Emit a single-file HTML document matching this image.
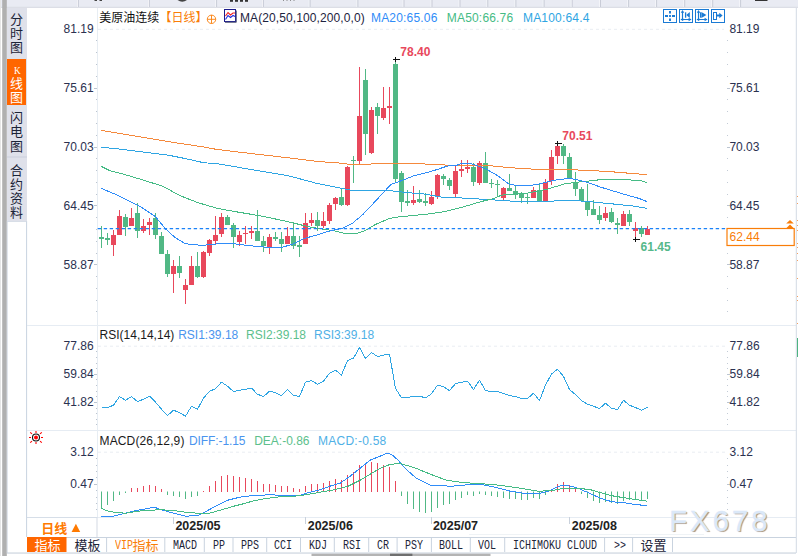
<!DOCTYPE html>
<html><head><meta charset="utf-8"><title>chart</title><style>
html,body{margin:0;padding:0;background:#fff;}
body{width:798px;height:556px;position:relative;overflow:hidden;font-family:"Liberation Sans",sans-serif;}
svg{position:absolute;left:0;top:0;}
.t{position:absolute;white-space:nowrap;font-family:"Liberation Sans",sans-serif;}
.c{font-family:"Liberation Sans","Noto Sans CJK SC",sans-serif;}
.wm{font-size:29px;line-height:34px;letter-spacing:3.2px;color:#dbe8f8;-webkit-text-stroke:0.55px #dbe8f8;text-shadow:1.3px 1.3px 0.7px #ab9683;}
</style></head>
<body>
<svg width="798" height="556" viewBox="0 0 798 556">
<rect x="0" y="0" width="798" height="7.5" fill="#e9ebf3"/>
<rect x="0" y="6.8" width="798" height="1" fill="#d6d9e2"/>
<rect x="77" y="0" width="1" height="7" fill="#f6f7fa"/>
<rect x="77.9" y="0" width="1" height="7" fill="#c9ccd7"/>
<rect x="148" y="0" width="1" height="7" fill="#f6f7fa"/>
<rect x="148.9" y="0" width="1" height="7" fill="#c9ccd7"/>
<rect x="215.2" y="0" width="1" height="7" fill="#f6f7fa"/>
<rect x="216.1" y="0" width="1" height="7" fill="#c9ccd7"/>
<rect x="262" y="0" width="1" height="7" fill="#f6f7fa"/>
<rect x="262.9" y="0" width="1" height="7" fill="#c9ccd7"/>
<rect x="308.7" y="0" width="1" height="7" fill="#f6f7fa"/>
<rect x="309.6" y="0" width="1" height="7" fill="#c9ccd7"/>
<rect x="356.5" y="0" width="1" height="7" fill="#f6f7fa"/>
<rect x="357.4" y="0" width="1" height="7" fill="#c9ccd7"/>
<rect x="402.6" y="0" width="1" height="7" fill="#f6f7fa"/>
<rect x="403.5" y="0" width="1" height="7" fill="#c9ccd7"/>
<rect x="430.6" y="0" width="1" height="7" fill="#f6f7fa"/>
<rect x="431.5" y="0" width="1" height="7" fill="#c9ccd7"/>
<rect x="458.6" y="0" width="1" height="7" fill="#f6f7fa"/>
<rect x="459.5" y="0" width="1" height="7" fill="#c9ccd7"/>
<rect x="486.4" y="0" width="1" height="7" fill="#f6f7fa"/>
<rect x="487.3" y="0" width="1" height="7" fill="#c9ccd7"/>
<rect x="514.5" y="0" width="1" height="7" fill="#f6f7fa"/>
<rect x="515.4" y="0" width="1" height="7" fill="#c9ccd7"/>
<rect x="542.7" y="0" width="1" height="7" fill="#f6f7fa"/>
<rect x="543.6" y="0" width="1" height="7" fill="#c9ccd7"/>
<rect x="570.8" y="0" width="1" height="7" fill="#f6f7fa"/>
<rect x="571.7" y="0" width="1" height="7" fill="#c9ccd7"/>
<rect x="599.1" y="0" width="1" height="7" fill="#f6f7fa"/>
<rect x="600" y="0" width="1" height="7" fill="#c9ccd7"/>
<rect x="627.2" y="0" width="1" height="7" fill="#f6f7fa"/>
<rect x="628.1" y="0" width="1" height="7" fill="#c9ccd7"/>
<rect x="655.2" y="0" width="1" height="7" fill="#f6f7fa"/>
<rect x="656.1" y="0" width="1" height="7" fill="#c9ccd7"/>
<rect x="683.3" y="0" width="1" height="7" fill="#f6f7fa"/>
<rect x="684.2" y="0" width="1" height="7" fill="#c9ccd7"/>
<rect x="711.3" y="0" width="1" height="7" fill="#f6f7fa"/>
<rect x="712.2" y="0" width="1" height="7" fill="#c9ccd7"/>
<rect x="739.2" y="0" width="1" height="7" fill="#f6f7fa"/>
<rect x="740.1" y="0" width="1" height="7" fill="#c9ccd7"/>
<rect x="94.5" y="0" width="2.5" height="1" fill="#444"/>
<rect x="99.5" y="0" width="2.5" height="1" fill="#444"/>
<path d="M177.5 0Q182.3 3.4 187 0Z" fill="#444"/>
<rect x="230" y="0" width="3" height="1.8" fill="#333"/>
<rect x="235" y="0" width="3" height="1.8" fill="#333"/>
<rect x="240" y="0" width="3" height="1.8" fill="#333"/>
<rect x="245" y="0" width="3" height="1.8" fill="#333"/>
<rect x="283" y="0" width="1" height="0.8" fill="#777"/>
<rect x="286.5" y="0" width="1" height="0.8" fill="#777"/>
<rect x="290" y="0" width="1" height="0.8" fill="#777"/>
<rect x="293.5" y="0" width="1" height="0.8" fill="#777"/>
<rect x="755" y="0" width="12.5" height="1" fill="#333"/>
<rect x="0" y="0" width="1" height="556" fill="#e6e6e6"/>
<rect x="2.2" y="0" width="4.6" height="556" fill="#b0b0b0"/>
<rect x="7" y="8" width="20" height="213.5" fill="#dfe1ea"/>
<rect x="7" y="59" width="19" height="46" fill="#ff6600"/>
<rect x="7" y="156.5" width="20" height="1" fill="#ccd0dc"/>
<rect x="6.8" y="221" width="0.8" height="332" fill="#cdd5e0"/>
<rect x="26" y="221" width="1.1" height="316" fill="#cdd7e3"/>
<rect x="7" y="221" width="20" height="0.8" fill="#d3dae4"/>
<rect x="27" y="325" width="769" height="1" fill="#e6ecf3"/>
<rect x="27" y="430" width="769" height="1" fill="#e6ecf3"/>
<rect x="27" y="517" width="769" height="1" fill="#e6ecf3"/>
<rect x="27" y="537" width="769" height="1" fill="#c9d3df"/>
<rect x="7" y="552.5" width="789" height="1.1" fill="#c8d1dc"/>
<rect x="795.8" y="8" width="1" height="545" fill="#d3dae4"/>
<rect x="797" y="338" width="1" height="19" fill="#4db380"/>
<rect x="797" y="196" width="1" height="1" fill="#f5a060"/>
<rect x="797" y="203" width="1" height="1" fill="#f5a060"/>
<rect x="797" y="220" width="1" height="1" fill="#f5a060"/>
<rect x="797" y="225" width="1" height="1" fill="#f5a060"/>
<rect x="797" y="230" width="1" height="1" fill="#f5a060"/>
<rect x="797" y="243" width="1" height="1" fill="#f5a060"/>
<rect x="797" y="247" width="1" height="1" fill="#f5a060"/>
<rect x="797" y="253" width="1" height="1" fill="#f5a060"/>
<rect x="797" y="260" width="1" height="1" fill="#f5a060"/>
<rect x="797" y="278" width="1" height="1" fill="#f5a060"/>
<rect x="797" y="296" width="1" height="1" fill="#f5a060"/>
<rect x="797" y="300" width="1" height="1" fill="#f5a060"/>
<rect x="797" y="323" width="1" height="1" fill="#f5a060"/>
<rect x="469" y="534" width="235" height="1" fill="#eff3f6"/>
<rect x="97" y="8" width="1" height="509" fill="#e7edf3"/>
<rect x="96.5" y="517" width="1" height="20" fill="#d3dae4"/>
<rect x="27" y="517" width="70" height="1" fill="#d6dee8"/>
<rect x="311.5" y="553.7" width="179" height="2.3" fill="#b4b4b4"/>
<rect x="390" y="553.7" width="22.4" height="2.3" fill="#6f6f6f"/>
<line x1="98" y1="29.3" x2="724" y2="29.3" stroke="#e9edf2" stroke-width="1" stroke-dasharray="3 3"/>
<line x1="98" y1="346.2" x2="727" y2="346.2" stroke="#e9edf2" stroke-width="1" stroke-dasharray="3 3"/>
<line x1="98" y1="452.2" x2="727" y2="452.2" stroke="#e9edf2" stroke-width="1" stroke-dasharray="3 3"/>
<rect x="96" y="40" width="1" height="1" fill="#bcc4cf"/>
<rect x="727" y="40" width="1" height="1" fill="#c3cbd6"/>
<rect x="96" y="52" width="1" height="1" fill="#bcc4cf"/>
<rect x="727" y="52" width="1" height="1" fill="#c3cbd6"/>
<rect x="96" y="64" width="1" height="1" fill="#bcc4cf"/>
<rect x="727" y="64" width="1" height="1" fill="#c3cbd6"/>
<rect x="96" y="76" width="1" height="1" fill="#bcc4cf"/>
<rect x="727" y="76" width="1" height="1" fill="#c3cbd6"/>
<rect x="94" y="88" width="3" height="1" fill="#bcc5d1"/>
<rect x="727" y="88" width="3" height="1" fill="#bcc5d1"/>
<rect x="96" y="99" width="1" height="1" fill="#bcc4cf"/>
<rect x="727" y="99" width="1" height="1" fill="#c3cbd6"/>
<rect x="96" y="111" width="1" height="1" fill="#bcc4cf"/>
<rect x="727" y="111" width="1" height="1" fill="#c3cbd6"/>
<rect x="96" y="123" width="1" height="1" fill="#bcc4cf"/>
<rect x="727" y="123" width="1" height="1" fill="#c3cbd6"/>
<rect x="96" y="135" width="1" height="1" fill="#bcc4cf"/>
<rect x="727" y="135" width="1" height="1" fill="#c3cbd6"/>
<rect x="94" y="147" width="3" height="1" fill="#bcc5d1"/>
<rect x="727" y="147" width="3" height="1" fill="#bcc5d1"/>
<rect x="96" y="158" width="1" height="1" fill="#bcc4cf"/>
<rect x="727" y="158" width="1" height="1" fill="#c3cbd6"/>
<rect x="96" y="170" width="1" height="1" fill="#bcc4cf"/>
<rect x="727" y="170" width="1" height="1" fill="#c3cbd6"/>
<rect x="96" y="182" width="1" height="1" fill="#bcc4cf"/>
<rect x="727" y="182" width="1" height="1" fill="#c3cbd6"/>
<rect x="96" y="194" width="1" height="1" fill="#bcc4cf"/>
<rect x="727" y="194" width="1" height="1" fill="#c3cbd6"/>
<rect x="94" y="205" width="3" height="1" fill="#bcc5d1"/>
<rect x="727" y="205" width="3" height="1" fill="#bcc5d1"/>
<rect x="96" y="217" width="1" height="1" fill="#bcc4cf"/>
<rect x="727" y="217" width="1" height="1" fill="#c3cbd6"/>
<rect x="96" y="229" width="1" height="1" fill="#bcc4cf"/>
<rect x="727" y="229" width="1" height="1" fill="#c3cbd6"/>
<rect x="96" y="241" width="1" height="1" fill="#bcc4cf"/>
<rect x="727" y="241" width="1" height="1" fill="#c3cbd6"/>
<rect x="96" y="253" width="1" height="1" fill="#bcc4cf"/>
<rect x="727" y="253" width="1" height="1" fill="#c3cbd6"/>
<rect x="94" y="264" width="3" height="1" fill="#bcc5d1"/>
<rect x="727" y="264" width="3" height="1" fill="#bcc5d1"/>
<rect x="96" y="276" width="1" height="1" fill="#bcc4cf"/>
<rect x="727" y="276" width="1" height="1" fill="#c3cbd6"/>
<rect x="96" y="288" width="1" height="1" fill="#bcc4cf"/>
<rect x="727" y="288" width="1" height="1" fill="#c3cbd6"/>
<rect x="96" y="300" width="1" height="1" fill="#bcc4cf"/>
<rect x="727" y="300" width="1" height="1" fill="#c3cbd6"/>
<rect x="96" y="311" width="1" height="1" fill="#bcc4cf"/>
<rect x="727" y="311" width="1" height="1" fill="#c3cbd6"/>
<rect x="96" y="351" width="1" height="1" fill="#bcc4cf"/>
<rect x="727" y="351" width="1" height="1" fill="#c3cbd6"/>
<rect x="96" y="357" width="1" height="1" fill="#bcc4cf"/>
<rect x="727" y="357" width="1" height="1" fill="#c3cbd6"/>
<rect x="96" y="363" width="1" height="1" fill="#bcc4cf"/>
<rect x="727" y="363" width="1" height="1" fill="#c3cbd6"/>
<rect x="96" y="368" width="1" height="1" fill="#bcc4cf"/>
<rect x="727" y="368" width="1" height="1" fill="#c3cbd6"/>
<rect x="94" y="374" width="3" height="1" fill="#bcc5d1"/>
<rect x="727" y="374" width="3" height="1" fill="#bcc5d1"/>
<rect x="96" y="379" width="1" height="1" fill="#bcc4cf"/>
<rect x="727" y="379" width="1" height="1" fill="#c3cbd6"/>
<rect x="96" y="385" width="1" height="1" fill="#bcc4cf"/>
<rect x="727" y="385" width="1" height="1" fill="#c3cbd6"/>
<rect x="96" y="391" width="1" height="1" fill="#bcc4cf"/>
<rect x="727" y="391" width="1" height="1" fill="#c3cbd6"/>
<rect x="96" y="396" width="1" height="1" fill="#bcc4cf"/>
<rect x="727" y="396" width="1" height="1" fill="#c3cbd6"/>
<rect x="94" y="402" width="3" height="1" fill="#bcc5d1"/>
<rect x="727" y="402" width="3" height="1" fill="#bcc5d1"/>
<rect x="96" y="408" width="1" height="1" fill="#bcc4cf"/>
<rect x="727" y="408" width="1" height="1" fill="#c3cbd6"/>
<rect x="96" y="413" width="1" height="1" fill="#bcc4cf"/>
<rect x="727" y="413" width="1" height="1" fill="#c3cbd6"/>
<rect x="96" y="419" width="1" height="1" fill="#bcc4cf"/>
<rect x="727" y="419" width="1" height="1" fill="#c3cbd6"/>
<rect x="96" y="424" width="1" height="1" fill="#bcc4cf"/>
<rect x="727" y="424" width="1" height="1" fill="#c3cbd6"/>
<rect x="96" y="458" width="1" height="1" fill="#bcc4cf"/>
<rect x="727" y="458" width="1" height="1" fill="#c3cbd6"/>
<rect x="96" y="465" width="1" height="1" fill="#bcc4cf"/>
<rect x="727" y="465" width="1" height="1" fill="#c3cbd6"/>
<rect x="96" y="471" width="1" height="1" fill="#bcc4cf"/>
<rect x="727" y="471" width="1" height="1" fill="#c3cbd6"/>
<rect x="96" y="477" width="1" height="1" fill="#bcc4cf"/>
<rect x="727" y="477" width="1" height="1" fill="#c3cbd6"/>
<rect x="94" y="484" width="3" height="1" fill="#bcc5d1"/>
<rect x="727" y="484" width="3" height="1" fill="#bcc5d1"/>
<rect x="96" y="490" width="1" height="1" fill="#bcc4cf"/>
<rect x="727" y="490" width="1" height="1" fill="#c3cbd6"/>
<rect x="96" y="497" width="1" height="1" fill="#bcc4cf"/>
<rect x="727" y="497" width="1" height="1" fill="#c3cbd6"/>
<rect x="96" y="503" width="1" height="1" fill="#bcc4cf"/>
<rect x="727" y="503" width="1" height="1" fill="#c3cbd6"/>
<rect x="96" y="509" width="1" height="1" fill="#bcc4cf"/>
<rect x="727" y="509" width="1" height="1" fill="#c3cbd6"/>
<rect x="101" y="226" width="1" height="22" fill="#51b885"/>
<rect x="99" y="237" width="5" height="2" fill="#51b885"/>
<rect x="107" y="233" width="1" height="12" fill="#51b885"/>
<rect x="105" y="238" width="5" height="2" fill="#51b885"/>
<rect x="113" y="230" width="1" height="26" fill="#e8485c"/>
<rect x="111" y="235" width="5" height="10" fill="#e8485c"/>
<rect x="119" y="210" width="1" height="25" fill="#e8485c"/>
<rect x="117" y="216" width="5" height="19" fill="#e8485c"/>
<rect x="125" y="214" width="1" height="22" fill="#51b885"/>
<rect x="123" y="217" width="5" height="10" fill="#51b885"/>
<rect x="131" y="208" width="1" height="18" fill="#e8485c"/>
<rect x="129" y="218" width="5" height="8" fill="#e8485c"/>
<rect x="137" y="203" width="1" height="35" fill="#51b885"/>
<rect x="135" y="213" width="5" height="18" fill="#51b885"/>
<rect x="143" y="219" width="1" height="14" fill="#e8485c"/>
<rect x="141" y="226" width="5" height="5" fill="#e8485c"/>
<rect x="149" y="218" width="1" height="17" fill="#e8485c"/>
<rect x="147" y="222" width="5" height="3" fill="#e8485c"/>
<rect x="155" y="213" width="1" height="26" fill="#51b885"/>
<rect x="153" y="218" width="5" height="17" fill="#51b885"/>
<rect x="161" y="232" width="1" height="22" fill="#51b885"/>
<rect x="159" y="236" width="5" height="18" fill="#51b885"/>
<rect x="167" y="250" width="1" height="27" fill="#51b885"/>
<rect x="165" y="254" width="5" height="20" fill="#51b885"/>
<rect x="173" y="260" width="1" height="33" fill="#e8485c"/>
<rect x="171" y="266" width="5" height="8" fill="#e8485c"/>
<rect x="179" y="256" width="1" height="22" fill="#51b885"/>
<rect x="177" y="266" width="5" height="7" fill="#51b885"/>
<rect x="185" y="279" width="1" height="25" fill="#e8485c"/>
<rect x="183" y="285" width="5" height="5" fill="#e8485c"/>
<rect x="191" y="256" width="1" height="29" fill="#e8485c"/>
<rect x="189" y="266" width="5" height="19" fill="#e8485c"/>
<rect x="197" y="252" width="1" height="26" fill="#51b885"/>
<rect x="195" y="266" width="5" height="11" fill="#51b885"/>
<rect x="203" y="251" width="1" height="27" fill="#e8485c"/>
<rect x="201" y="252" width="5" height="25" fill="#e8485c"/>
<rect x="209" y="239" width="1" height="17" fill="#e8485c"/>
<rect x="207" y="240" width="5" height="13" fill="#e8485c"/>
<rect x="215" y="216" width="1" height="28" fill="#e8485c"/>
<rect x="213" y="235" width="5" height="6" fill="#e8485c"/>
<rect x="221" y="213" width="1" height="24" fill="#e8485c"/>
<rect x="219" y="217" width="5" height="17" fill="#e8485c"/>
<rect x="227" y="215" width="1" height="10" fill="#51b885"/>
<rect x="225" y="217" width="5" height="8" fill="#51b885"/>
<rect x="233" y="223" width="1" height="25" fill="#51b885"/>
<rect x="231" y="225" width="5" height="12" fill="#51b885"/>
<rect x="239" y="231" width="1" height="15" fill="#e8485c"/>
<rect x="237" y="235" width="5" height="7" fill="#e8485c"/>
<rect x="245" y="226" width="1" height="18" fill="#e8485c"/>
<rect x="243" y="233" width="5" height="1" fill="#e8485c"/>
<rect x="251" y="226" width="1" height="13" fill="#e8485c"/>
<rect x="249" y="231" width="5" height="2" fill="#e8485c"/>
<rect x="257" y="210" width="1" height="31" fill="#51b885"/>
<rect x="255" y="231" width="5" height="10" fill="#51b885"/>
<rect x="263" y="236" width="1" height="16" fill="#51b885"/>
<rect x="261" y="241" width="5" height="5" fill="#51b885"/>
<rect x="269" y="234" width="1" height="20" fill="#e8485c"/>
<rect x="267" y="237" width="5" height="10" fill="#e8485c"/>
<rect x="275" y="232" width="1" height="9" fill="#51b885"/>
<rect x="273" y="237" width="5" height="2" fill="#51b885"/>
<rect x="281" y="232" width="1" height="20" fill="#51b885"/>
<rect x="279" y="239" width="5" height="5" fill="#51b885"/>
<rect x="287" y="227" width="1" height="17" fill="#e8485c"/>
<rect x="285" y="236" width="5" height="8" fill="#e8485c"/>
<rect x="293" y="222" width="1" height="27" fill="#51b885"/>
<rect x="291" y="236" width="5" height="10" fill="#51b885"/>
<rect x="299" y="236" width="1" height="21" fill="#51b885"/>
<rect x="297" y="245" width="5" height="2" fill="#51b885"/>
<rect x="305" y="213" width="1" height="31" fill="#e8485c"/>
<rect x="303" y="223" width="5" height="21" fill="#e8485c"/>
<rect x="311" y="213" width="1" height="13" fill="#e8485c"/>
<rect x="309" y="220" width="5" height="3" fill="#e8485c"/>
<rect x="317" y="212" width="1" height="19" fill="#51b885"/>
<rect x="315" y="220" width="5" height="6" fill="#51b885"/>
<rect x="323" y="212" width="1" height="16" fill="#e8485c"/>
<rect x="321" y="221" width="5" height="5" fill="#e8485c"/>
<rect x="329" y="203" width="1" height="21" fill="#e8485c"/>
<rect x="327" y="205" width="5" height="16" fill="#e8485c"/>
<rect x="335" y="197" width="1" height="13" fill="#e8485c"/>
<rect x="333" y="198" width="5" height="6" fill="#e8485c"/>
<rect x="341" y="189" width="1" height="17" fill="#51b885"/>
<rect x="339" y="197" width="5" height="8" fill="#51b885"/>
<rect x="347" y="166" width="1" height="40" fill="#e8485c"/>
<rect x="345" y="167" width="5" height="38" fill="#e8485c"/>
<rect x="353" y="156" width="1" height="27" fill="#51b885"/>
<rect x="351" y="160" width="5" height="1" fill="#51b885"/>
<rect x="359" y="67" width="1" height="97" fill="#e8485c"/>
<rect x="357" y="116" width="5" height="45" fill="#e8485c"/>
<rect x="365" y="69" width="1" height="86" fill="#51b885"/>
<rect x="363" y="80" width="5" height="54" fill="#51b885"/>
<rect x="371" y="107" width="1" height="47" fill="#e8485c"/>
<rect x="369" y="110" width="5" height="43" fill="#e8485c"/>
<rect x="377" y="103" width="1" height="31" fill="#51b885"/>
<rect x="375" y="107" width="5" height="9" fill="#51b885"/>
<rect x="383" y="87" width="1" height="33" fill="#e8485c"/>
<rect x="381" y="108" width="5" height="10" fill="#e8485c"/>
<rect x="389" y="87" width="1" height="37" fill="#e8485c"/>
<rect x="387" y="106" width="5" height="2" fill="#e8485c"/>
<rect x="395" y="61" width="1" height="122" fill="#51b885"/>
<rect x="393" y="64" width="5" height="115" fill="#51b885"/>
<rect x="401" y="171" width="1" height="41" fill="#51b885"/>
<rect x="399" y="173" width="5" height="29" fill="#51b885"/>
<rect x="407" y="190" width="1" height="16" fill="#51b885"/>
<rect x="405" y="201" width="5" height="2" fill="#51b885"/>
<rect x="413" y="186" width="1" height="19" fill="#e8485c"/>
<rect x="411" y="200" width="5" height="3" fill="#e8485c"/>
<rect x="419" y="190" width="1" height="13" fill="#51b885"/>
<rect x="417" y="199" width="5" height="3" fill="#51b885"/>
<rect x="425" y="193" width="1" height="13" fill="#51b885"/>
<rect x="423" y="201" width="5" height="2" fill="#51b885"/>
<rect x="431" y="191" width="1" height="14" fill="#e8485c"/>
<rect x="429" y="197" width="5" height="7" fill="#e8485c"/>
<rect x="437" y="174" width="1" height="25" fill="#e8485c"/>
<rect x="435" y="175" width="5" height="21" fill="#e8485c"/>
<rect x="443" y="174" width="1" height="11" fill="#51b885"/>
<rect x="441" y="176" width="5" height="3" fill="#51b885"/>
<rect x="449" y="178" width="1" height="12" fill="#51b885"/>
<rect x="447" y="180" width="5" height="6" fill="#51b885"/>
<rect x="455" y="166" width="1" height="31" fill="#e8485c"/>
<rect x="453" y="171" width="5" height="23" fill="#e8485c"/>
<rect x="461" y="160" width="1" height="17" fill="#e8485c"/>
<rect x="459" y="169" width="5" height="2" fill="#e8485c"/>
<rect x="467" y="160" width="1" height="13" fill="#e8485c"/>
<rect x="465" y="167" width="5" height="2" fill="#e8485c"/>
<rect x="473" y="163" width="1" height="23" fill="#51b885"/>
<rect x="471" y="167" width="5" height="15" fill="#51b885"/>
<rect x="479" y="161" width="1" height="24" fill="#e8485c"/>
<rect x="477" y="163" width="5" height="20" fill="#e8485c"/>
<rect x="485" y="152" width="1" height="31" fill="#51b885"/>
<rect x="483" y="163" width="5" height="20" fill="#51b885"/>
<rect x="491" y="179" width="1" height="9" fill="#51b885"/>
<rect x="489" y="183" width="5" height="1" fill="#51b885"/>
<rect x="497" y="180" width="1" height="17" fill="#51b885"/>
<rect x="495" y="184" width="5" height="1" fill="#51b885"/>
<rect x="503" y="187" width="1" height="13" fill="#e8485c"/>
<rect x="501" y="188" width="5" height="10" fill="#e8485c"/>
<rect x="509" y="174" width="1" height="17" fill="#51b885"/>
<rect x="507" y="188" width="5" height="3" fill="#51b885"/>
<rect x="515" y="186" width="1" height="13" fill="#51b885"/>
<rect x="513" y="191" width="5" height="4" fill="#51b885"/>
<rect x="521" y="192" width="1" height="11" fill="#51b885"/>
<rect x="519" y="193" width="5" height="5" fill="#51b885"/>
<rect x="527" y="193" width="1" height="11" fill="#51b885"/>
<rect x="525" y="197" width="5" height="1" fill="#51b885"/>
<rect x="533" y="187" width="1" height="11" fill="#e8485c"/>
<rect x="531" y="190" width="5" height="8" fill="#e8485c"/>
<rect x="539" y="184" width="1" height="17" fill="#51b885"/>
<rect x="537" y="190" width="5" height="11" fill="#51b885"/>
<rect x="545" y="179" width="1" height="22" fill="#e8485c"/>
<rect x="543" y="182" width="5" height="19" fill="#e8485c"/>
<rect x="551" y="150" width="1" height="35" fill="#e8485c"/>
<rect x="549" y="157" width="5" height="24" fill="#e8485c"/>
<rect x="557" y="143" width="1" height="21" fill="#e8485c"/>
<rect x="555" y="146" width="5" height="10" fill="#e8485c"/>
<rect x="563" y="144" width="1" height="20" fill="#51b885"/>
<rect x="561" y="146" width="5" height="10" fill="#51b885"/>
<rect x="569" y="153" width="1" height="26" fill="#51b885"/>
<rect x="567" y="157" width="5" height="21" fill="#51b885"/>
<rect x="575" y="172" width="1" height="24" fill="#51b885"/>
<rect x="573" y="183" width="5" height="6" fill="#51b885"/>
<rect x="581" y="187" width="1" height="14" fill="#51b885"/>
<rect x="579" y="189" width="5" height="12" fill="#51b885"/>
<rect x="587" y="184" width="1" height="32" fill="#51b885"/>
<rect x="585" y="201" width="5" height="9" fill="#51b885"/>
<rect x="593" y="200" width="1" height="15" fill="#51b885"/>
<rect x="591" y="209" width="5" height="6" fill="#51b885"/>
<rect x="599" y="206" width="1" height="18" fill="#51b885"/>
<rect x="597" y="215" width="5" height="5" fill="#51b885"/>
<rect x="605" y="207" width="1" height="14" fill="#e8485c"/>
<rect x="603" y="213" width="5" height="5" fill="#e8485c"/>
<rect x="611" y="208" width="1" height="15" fill="#51b885"/>
<rect x="609" y="212" width="5" height="10" fill="#51b885"/>
<rect x="617" y="218" width="1" height="16" fill="#51b885"/>
<rect x="615" y="223" width="5" height="2" fill="#51b885"/>
<rect x="623" y="211" width="1" height="15" fill="#e8485c"/>
<rect x="621" y="214" width="5" height="12" fill="#e8485c"/>
<rect x="629" y="210" width="1" height="16" fill="#51b885"/>
<rect x="627" y="214" width="5" height="8" fill="#51b885"/>
<rect x="635" y="222" width="1" height="18" fill="#e8485c"/>
<rect x="633" y="228" width="5" height="3" fill="#e8485c"/>
<rect x="641" y="226" width="1" height="11" fill="#51b885"/>
<rect x="639" y="228" width="5" height="6" fill="#51b885"/>
<rect x="647" y="226" width="1" height="9" fill="#e8485c"/>
<rect x="645" y="229" width="5" height="6" fill="#e8485c"/>
<polyline points="101,130.4 123,134 150,138.5 177,143 204,147 216,149.3 250,153.4 290,158 316,161.2 334,162.8 346,163.3 347,164.3 359.2,164.2 395.2,163.6 416.8,163.6 436,164.6 453,165.4 487.2,165.4 505.2,167.2 523.2,168.7 546,169.6 568.4,169.5 585.6,170.4 607.2,171.4 628.8,173.2 647.2,174.7" fill="none" stroke="#f5893c" stroke-width="1" stroke-linejoin="round" shape-rendering="crispEdges"/>
<polyline points="101,147.3 114,148.4 132,150.6 150,152.9 168,155.1 186,158.7 204,162.8 216,163.5 250,169.3 289.4,176 316,183.2 334,186.8 352,190.4 388,190.4 406,192.5 424,194 436,196.1 444,197.5 462,198 483.6,199.3 498,200.2 516,201.4 546,201.4 557.6,200.8 568.4,200.1 590,201.7 611.5,203.8 633.1,206 647.2,208.4" fill="none" stroke="#2ea5e3" stroke-width="1" stroke-linejoin="round" shape-rendering="crispEdges"/>
<polyline points="101,166.2 110.4,170.9 123,174 141,179.4 162.6,186.2 180.6,195.9 196.8,202.2 206,205.1 216,208 230.3,210.8 257.8,215.4 278.9,219.7 296.7,223.8 309.6,227 316,228.1 334,230.8 344.8,233.5 355.6,233.9 364.6,230.8 375.4,224.5 388,219.1 395.2,217.3 413.2,215.5 427.5,214.1 436,212.8 444,211.8 462,207.3 480,201.9 494.4,198.3 501.6,195.1 516,193.8 526.8,193.3 537.6,191.2 549,188.7 564,184 574.9,182.4 587.8,181.2 600.8,179.6 622.3,179.6 637.4,180.3 643.9,181.4 647.2,182.9" fill="none" stroke="#45bb85" stroke-width="1" stroke-linejoin="round" shape-rendering="crispEdges"/>
<polyline points="101,188.3 114,193.7 132,202.4 142.8,208.1 155.4,216.5 165.2,228.6 175.1,237.5 185,243.5 190.9,244.4 202.8,245.4 215.7,244 233.5,243.7 248.9,245.6 267.5,247.3 282.1,247.3 293.4,244 304.8,238.3 316,235.2 326.8,231.7 343,228.1 352,223.6 362.8,214.6 375.4,201.2 386.2,189.5 391.6,184.1 400.6,181 413.2,176 427.5,172.4 436.8,169.6 447.6,166 456.6,165.4 462,163.3 471,163.6 478.2,166 487.2,169.6 498,175.9 508.8,184 516,185.4 530.4,185.4 541.2,183.6 549,181.4 557.6,179.6 568.4,178.6 574.9,179.2 585.6,181.8 600.8,187.2 622.3,193.7 639.6,198.6 647.2,201.7" fill="none" stroke="#2f8cf8" stroke-width="1" stroke-linejoin="round" shape-rendering="crispEdges"/>
<line x1="97.7" y1="228.6" x2="726.5" y2="228.6" stroke="#1b82f8" stroke-width="1.3" stroke-dasharray="3.4 2.6"/>
<rect x="393" y="59" width="7" height="1" fill="#111"/>
<rect x="395" y="57" width="1" height="5" fill="#111"/>
<rect x="555" y="143" width="7" height="1" fill="#111"/>
<rect x="557" y="141" width="1" height="5" fill="#111"/>
<rect x="633" y="239" width="7" height="1" fill="#111"/>
<rect x="635" y="237" width="1" height="5" fill="#111"/>
<polyline points="101.5,407.6 107.5,407.6 113.5,405.2 119.5,396.6 125.5,400.2 131.5,396.6 137.5,401.6 143.5,399.2 149.5,396.2 155.5,402.2 161.5,409.2 167.5,415.6 173.5,410.2 179.5,412.6 185.5,416.2 191.5,406.2 197.5,409.2 203.5,398.2 209.5,391.2 215.5,388.8 221.5,382.1 227.5,386.2 233.5,391.6 239.5,390.2 245.5,389.4 251.5,388.2 257.5,394.2 263.5,396.6 269.5,391.2 275.5,392.6 281.5,395.6 287.5,389.6 293.5,395.2 299.5,396.6 305.5,382.2 311.5,380.5 317.5,384.2 323.5,381.1 329.5,373.1 335.5,370.1 341.5,375.1 347.5,360.5 353.5,358.1 359.5,347.5 365.5,358.5 371.5,352.5 377.5,356.5 383.5,355.1 389.5,354.1 395.5,388.5 401.5,397.6 407.5,397.6 413.5,396.2 419.5,396.2 425.5,397.8 431.5,393.8 437.5,385.2 443.5,386.6 449.5,390.6 455.5,383.6 461.5,382.2 467.5,381.1 473.5,389.6 479.5,380.1 485.5,390.6 491.5,391.6 497.5,391.6 503.5,393.6 509.5,395.6 515.5,396.6 521.5,398.6 527.5,398.6 533.5,393.2 539.5,400.6 545.5,385 551.5,374.1 557.5,369.1 563.5,376.5 569.5,389.6 575.5,394.6 581.5,400.6 587.5,404.2 593.5,406.2 599.5,408.6 605.5,403.2 611.5,408.2 617.5,409.6 623.5,400.2 629.5,405.2 635.5,407.6 641.5,410.2 647.5,407.2" fill="none" stroke="#2ea5e3" stroke-width="1" stroke-linejoin="round" shape-rendering="crispEdges"/>
<rect x="101" y="491.5" width="1" height="16.5" fill="#51b885"/>
<rect x="107" y="491.5" width="1" height="13.5" fill="#51b885"/>
<rect x="113" y="491.5" width="1" height="9.5" fill="#51b885"/>
<rect x="119" y="491.5" width="1" height="3.5" fill="#51b885"/>
<rect x="125" y="491.5" width="1" height="1.5" fill="#51b885"/>
<rect x="131" y="488" width="1" height="4" fill="#e8485c"/>
<rect x="137" y="488" width="1" height="4" fill="#e8485c"/>
<rect x="143" y="486" width="1" height="6" fill="#e8485c"/>
<rect x="149" y="485" width="1" height="7" fill="#e8485c"/>
<rect x="155" y="486" width="1" height="6" fill="#e8485c"/>
<rect x="161" y="489" width="1" height="3" fill="#e8485c"/>
<rect x="167" y="491.5" width="1" height="3.5" fill="#51b885"/>
<rect x="173" y="491.5" width="1" height="4.5" fill="#51b885"/>
<rect x="179" y="491.5" width="1" height="5.5" fill="#51b885"/>
<rect x="185" y="491.5" width="1" height="7.5" fill="#51b885"/>
<rect x="191" y="491.5" width="1" height="5.5" fill="#51b885"/>
<rect x="197" y="491.5" width="1" height="4.5" fill="#51b885"/>
<rect x="203" y="491" width="1" height="1" fill="#e8485c"/>
<rect x="209" y="486" width="1" height="6" fill="#e8485c"/>
<rect x="215" y="481" width="1" height="11" fill="#e8485c"/>
<rect x="221" y="476" width="1" height="16" fill="#e8485c"/>
<rect x="227" y="475" width="1" height="17" fill="#e8485c"/>
<rect x="233" y="476" width="1" height="16" fill="#e8485c"/>
<rect x="239" y="477" width="1" height="15" fill="#e8485c"/>
<rect x="245" y="478" width="1" height="14" fill="#e8485c"/>
<rect x="251" y="479" width="1" height="13" fill="#e8485c"/>
<rect x="257" y="481" width="1" height="11" fill="#e8485c"/>
<rect x="263" y="484" width="1" height="8" fill="#e8485c"/>
<rect x="269" y="484" width="1" height="8" fill="#e8485c"/>
<rect x="275" y="485" width="1" height="7" fill="#e8485c"/>
<rect x="281" y="486" width="1" height="6" fill="#e8485c"/>
<rect x="287" y="486" width="1" height="6" fill="#e8485c"/>
<rect x="293" y="488" width="1" height="4" fill="#e8485c"/>
<rect x="299" y="489" width="1" height="3" fill="#e8485c"/>
<rect x="305" y="486" width="1" height="6" fill="#e8485c"/>
<rect x="311" y="484" width="1" height="8" fill="#e8485c"/>
<rect x="317" y="484" width="1" height="8" fill="#e8485c"/>
<rect x="323" y="483" width="1" height="9" fill="#e8485c"/>
<rect x="329" y="481" width="1" height="11" fill="#e8485c"/>
<rect x="335" y="479" width="1" height="13" fill="#e8485c"/>
<rect x="341" y="480" width="1" height="12" fill="#e8485c"/>
<rect x="347" y="475" width="1" height="17" fill="#e8485c"/>
<rect x="353" y="472" width="1" height="20" fill="#e8485c"/>
<rect x="359" y="465" width="1" height="27" fill="#e8485c"/>
<rect x="365" y="464" width="1" height="28" fill="#e8485c"/>
<rect x="371" y="462" width="1" height="30" fill="#e8485c"/>
<rect x="377" y="463" width="1" height="29" fill="#e8485c"/>
<rect x="383" y="465" width="1" height="27" fill="#e8485c"/>
<rect x="389" y="467" width="1" height="25" fill="#e8485c"/>
<rect x="395" y="481" width="1" height="11" fill="#e8485c"/>
<rect x="401" y="491.5" width="1" height="4.5" fill="#51b885"/>
<rect x="407" y="491.5" width="1" height="12.5" fill="#51b885"/>
<rect x="413" y="491.5" width="1" height="17.5" fill="#51b885"/>
<rect x="419" y="491.5" width="1" height="20.5" fill="#51b885"/>
<rect x="425" y="491.5" width="1" height="21.5" fill="#51b885"/>
<rect x="431" y="491.5" width="1" height="20.5" fill="#51b885"/>
<rect x="437" y="491.5" width="1" height="16.5" fill="#51b885"/>
<rect x="443" y="491.5" width="1" height="13.5" fill="#51b885"/>
<rect x="449" y="491.5" width="1" height="12.5" fill="#51b885"/>
<rect x="455" y="491.5" width="1" height="8.5" fill="#51b885"/>
<rect x="461" y="491.5" width="1" height="6.5" fill="#51b885"/>
<rect x="467" y="491.5" width="1" height="3.5" fill="#51b885"/>
<rect x="473" y="491.5" width="1" height="4.5" fill="#51b885"/>
<rect x="479" y="491.5" width="1" height="2.5" fill="#51b885"/>
<rect x="485" y="491.5" width="1" height="3.5" fill="#51b885"/>
<rect x="491" y="491.5" width="1" height="4.5" fill="#51b885"/>
<rect x="497" y="491.5" width="1" height="5.5" fill="#51b885"/>
<rect x="503" y="491.5" width="1" height="6.5" fill="#51b885"/>
<rect x="509" y="491.5" width="1" height="7.5" fill="#51b885"/>
<rect x="515" y="491.5" width="1" height="7.5" fill="#51b885"/>
<rect x="521" y="491.5" width="1" height="8.5" fill="#51b885"/>
<rect x="527" y="491.5" width="1" height="8.5" fill="#51b885"/>
<rect x="533" y="491.5" width="1" height="6.5" fill="#51b885"/>
<rect x="539" y="491.5" width="1" height="7.5" fill="#51b885"/>
<rect x="545" y="491.5" width="1" height="3.5" fill="#51b885"/>
<rect x="551" y="489" width="1" height="3" fill="#e8485c"/>
<rect x="557" y="484" width="1" height="8" fill="#e8485c"/>
<rect x="563" y="482" width="1" height="10" fill="#e8485c"/>
<rect x="569" y="485" width="1" height="7" fill="#e8485c"/>
<rect x="575" y="488" width="1" height="4" fill="#e8485c"/>
<rect x="581" y="491.5" width="1" height="2.5" fill="#51b885"/>
<rect x="587" y="491.5" width="1" height="6.5" fill="#51b885"/>
<rect x="593" y="491.5" width="1" height="9.5" fill="#51b885"/>
<rect x="599" y="491.5" width="1" height="11.5" fill="#51b885"/>
<rect x="605" y="491.5" width="1" height="10.5" fill="#51b885"/>
<rect x="611" y="491.5" width="1" height="11.5" fill="#51b885"/>
<rect x="617" y="491.5" width="1" height="12.5" fill="#51b885"/>
<rect x="623" y="491.5" width="1" height="9.5" fill="#51b885"/>
<rect x="629" y="491.5" width="1" height="8.5" fill="#51b885"/>
<rect x="635" y="491.5" width="1" height="8.5" fill="#51b885"/>
<rect x="641" y="491.5" width="1" height="9.5" fill="#51b885"/>
<rect x="647" y="491.5" width="1" height="7.5" fill="#51b885"/>
<polyline points="101.4,516.2 113.5,516.2 125.5,513.2 137.5,510.2 149.5,508.2 154.2,507.2 161.6,509.8 173.6,513.2 185.6,516.2 197.7,515.6 203.7,512.6 215.7,506.2 227.7,500.2 239.8,497.2 252,495.6 270,494.8 280,495.2 300,495.2 306.2,493.2 320.2,489.8 330.2,486.1 340.3,483.1 350.3,476.1 360.3,468.1 370.3,460.1 380.4,456.1 387.4,453.1 392.4,455.1 398,460.1 406,469.1 416.1,478.1 430.1,485.1 446.1,485.7 450.2,486.7 456.2,485.5 470.2,484.7 480.2,484.1 494.3,487.1 510.3,491.2 526.3,493.6 538.4,493.6 550,490.8 558,486.5 564.1,485.1 576.1,487.5 588.1,492.6 600.2,498.2 612.2,501.8 624.2,502.8 636.2,504.6 646.9,505.6" fill="none" stroke="#2f8cf8" stroke-width="1" stroke-linejoin="round" shape-rendering="crispEdges"/>
<polyline points="101.4,508.2 106,510.6 113.5,512.2 125.5,513.2 137.5,511.2 149.5,510.2 161.6,509.8 173.6,510.6 185.6,512.2 197.7,513.2 209.7,513.2 221.7,509.8 233.8,506.2 245.8,503.2 252,501.2 264,498.8 280,496.8 300,495.8 320.2,492.2 334.2,489.8 348.3,486.1 360.3,480.1 370.3,474.1 380.4,468.1 390.4,464.3 400,463.5 414.1,467.5 430.1,474.1 446.1,480.1 462.2,482.5 480.2,483.7 494.3,484.7 510.3,486.7 526.3,489.2 538.4,491.2 552,490.6 564.1,488.1 576.1,488.1 590.1,489.6 600.2,492.6 612.2,495.8 624.2,497.8 636.2,499.6 646.9,501.2" fill="none" stroke="#45bb85" stroke-width="1" stroke-linejoin="round" shape-rendering="crispEdges"/>
<rect x="173" y="517" width="1" height="7" fill="#c9d1dc"/>
<rect x="305" y="517" width="1" height="7" fill="#c9d1dc"/>
<rect x="431" y="517" width="1" height="7" fill="#c9d1dc"/>
<rect x="569" y="517" width="1" height="7" fill="#c9d1dc"/>
<rect x="727" y="228.5" width="67.2" height="17" fill="#fff" stroke="#f97d08" stroke-width="1.2"/>
<path d="M786.2 223.6L790 220L793.8 223.6ZM786.2 228.2L790 224.6L793.8 228.2Z" fill="#f97d08"/>
<g stroke="#f97d08" stroke-width="0.9" fill="none"><circle cx="211.5" cy="19.3" r="4.2"/><path d="M207.3 19.3H215.7M211.5 15.1V23.5"/></g>
<g><rect x="224.5" y="9.5" width="11" height="12" fill="#fff" stroke="#1c1c8c" stroke-width="1"/><path d="M225 22.3H236.3V10.5" stroke="#555a7a" stroke-width="1" fill="none"/><polyline points="225.5,16 228,12.5 230.5,15 233,13 235,13" fill="none" stroke="#f02020" stroke-width="1.1"/><polyline points="225.5,19.5 228,15.5 230.5,17.5 233,15.5 235,16.5" fill="none" stroke="#2030e0" stroke-width="1.1"/></g>
<rect x="663.5" y="9.5" width="13" height="13" fill="#fff" stroke="#1a7ad4" stroke-width="1"/>
<rect x="679.5" y="9.5" width="13" height="13" fill="#fff" stroke="#1a7ad4" stroke-width="1"/>
<rect x="695.5" y="9.5" width="13" height="13" fill="#fff" stroke="#1a7ad4" stroke-width="1"/>
<rect x="711.5" y="9.5" width="13" height="13" fill="#fff" stroke="#1a7ad4" stroke-width="1"/>
<path d="M665 16H668M669.1 16H670.9M672 16H675M670 11V13.5M670 18.5V21" stroke="#1a7ad4" stroke-width="1.9" fill="none"/>
<g stroke="#1a7ad4" fill="#1a7ad4" stroke-width="1.15"><path d="M682.5 11V20.5M681 19.5H691" fill="none"/><path d="M680.8 12.8L682.5 10L684.2 12.8ZM688.6 17.8L691.6 19.5L688.6 21.2ZM683.2 18L680.4 19.5L683.2 21Z" stroke="none"/><path d="M685.6 12.3V17.7" fill="none" stroke-width="1.3"/><path d="M689.8 12.1V17.9L686.3 15Z" stroke="none"/></g>
<g stroke="#1a7ad4" fill="#1a7ad4" stroke-width="1.15"><path d="M698.5 11V20.5M697 19.5H707" fill="none"/><path d="M696.8 12.8L698.5 10L700.2 12.8ZM704.6 17.8L707.6 19.5L704.6 21.2ZM699.2 18L696.4 19.5L699.2 21Z" stroke="none"/><path d="M700.6 12.3V17.7" fill="none" stroke-width="1.3"/><path d="M701.4 12V18L706.4 15Z" stroke="none"/></g>
<g stroke="#1a7ad4" fill="#1a7ad4" stroke-width="1"><rect x="713.5" y="12.5" width="3" height="7" fill="none"/><path d="M716 15.5H720" fill="none" stroke-width="2"/><path d="M719.3 12.7L722.6 15.5L719.3 18.3Z" stroke="none"/></g>
<g><circle cx="36" cy="437.5" r="3.5" fill="#fff" stroke="#111" stroke-width="1.1"/><circle cx="36" cy="437.5" r="2" fill="#f00"/><path d="M36 431V433M36 442V444M29 437.5H31M41 437.5H43M30.2 432.3L32 433.8M40 441.2L41.8 442.7M41.8 432.3L40 433.8M32 441.2L30.2 442.7" stroke="#f00" stroke-width="1.1" fill="none"/></g>
<path d="M71.6 532L75.9 523.8L80.2 532Z" fill="#ff7a00"/>
<rect x="27" y="537" width="39.5" height="15" fill="#ff6600"/>
<rect x="106.1" y="537" width="1" height="15" fill="#c9d3df"/>
<rect x="164.3" y="537" width="1" height="15" fill="#c9d3df"/>
<rect x="203.8" y="537" width="1" height="15" fill="#c9d3df"/>
<rect x="232.5" y="537" width="1" height="15" fill="#c9d3df"/>
<rect x="266.2" y="537" width="1" height="15" fill="#c9d3df"/>
<rect x="300" y="537" width="1" height="15" fill="#c9d3df"/>
<rect x="333.8" y="537" width="1" height="15" fill="#c9d3df"/>
<rect x="368.2" y="537" width="1" height="15" fill="#c9d3df"/>
<rect x="396.6" y="537" width="1" height="15" fill="#c9d3df"/>
<rect x="430.9" y="537" width="1" height="15" fill="#c9d3df"/>
<rect x="469.8" y="537" width="1" height="15" fill="#c9d3df"/>
<rect x="504.2" y="537" width="1" height="15" fill="#c9d3df"/>
<rect x="604.1" y="537" width="1" height="15" fill="#c9d3df"/>
<rect x="632.1" y="537" width="1" height="15" fill="#c9d3df"/>
<rect x="672" y="537" width="1" height="15" fill="#c9d3df"/>
</svg>
<div class="t c" style="left:99.3px;top:11.3px;width:60.0px;height:14px;font-size:12px;line-height:14px;color:#111;">美原油连续</div>
<div class="t c" style="left:159.5px;top:11.3px;width:48.0px;height:14px;font-size:12px;line-height:14px;color:#f97d08;">【日线】</div>
<div class="t" style="top:10.54px;font-size:12px;line-height:14px;color:#1d2340;left:240.00px;letter-spacing:.1px;">MA(20,50,100,200,0,0)</div>
<div class="t" style="top:10.54px;font-size:12px;line-height:14px;color:#2f8cf8;left:371.00px;letter-spacing:.18px;">MA20:65.06</div>
<div class="t" style="top:10.54px;font-size:12px;line-height:14px;color:#45bb85;left:446.80px;letter-spacing:.18px;">MA50:66.76</div>
<div class="t" style="top:10.54px;font-size:12px;line-height:14px;color:#2ea5e3;left:523.00px;letter-spacing:.18px;">MA100:64.4</div>
<div class="t" style="top:21.69px;font-size:12px;line-height:14px;color:#2b3150;right:704.40px;">81.19</div>
<div class="t" style="top:21.69px;font-size:12px;line-height:14px;color:#2b3150;left:729.40px;">81.19</div>
<div class="t" style="top:80.69px;font-size:12px;line-height:14px;color:#2b3150;right:704.40px;">75.61</div>
<div class="t" style="top:80.69px;font-size:12px;line-height:14px;color:#2b3150;left:729.40px;">75.61</div>
<div class="t" style="top:139.69px;font-size:12px;line-height:14px;color:#2b3150;right:704.40px;">70.03</div>
<div class="t" style="top:139.69px;font-size:12px;line-height:14px;color:#2b3150;left:729.40px;">70.03</div>
<div class="t" style="top:198.69px;font-size:12px;line-height:14px;color:#2b3150;right:704.40px;">64.45</div>
<div class="t" style="top:198.69px;font-size:12px;line-height:14px;color:#2b3150;left:729.40px;">64.45</div>
<div class="t" style="top:257.69px;font-size:12px;line-height:14px;color:#2b3150;right:704.40px;">58.87</div>
<div class="t" style="top:257.69px;font-size:12px;line-height:14px;color:#2b3150;left:729.40px;">58.87</div>
<div class="t" style="top:338.64px;font-size:12px;line-height:14px;color:#2b3150;right:704.40px;">77.86</div>
<div class="t" style="top:338.64px;font-size:12px;line-height:14px;color:#2b3150;left:729.60px;">77.86</div>
<div class="t" style="top:366.84px;font-size:12px;line-height:14px;color:#2b3150;right:704.40px;">59.84</div>
<div class="t" style="top:366.84px;font-size:12px;line-height:14px;color:#2b3150;left:729.60px;">59.84</div>
<div class="t" style="top:394.94px;font-size:12px;line-height:14px;color:#2b3150;right:704.40px;">41.82</div>
<div class="t" style="top:394.94px;font-size:12px;line-height:14px;color:#2b3150;left:729.60px;">41.82</div>
<div class="t" style="top:444.84px;font-size:12px;line-height:14px;color:#2b3150;right:704.40px;">3.12</div>
<div class="t" style="top:444.84px;font-size:12px;line-height:14px;color:#2b3150;left:729.60px;">3.12</div>
<div class="t" style="top:476.84px;font-size:12px;line-height:14px;color:#2b3150;right:704.40px;">0.47</div>
<div class="t" style="top:476.84px;font-size:12px;line-height:14px;color:#2b3150;left:729.60px;">0.47</div>
<div class="t" style="top:229.74px;font-size:12px;line-height:14px;color:#f97d08;left:729.60px;">62.44</div>
<div class="t" style="top:328.04px;font-size:12px;line-height:14px;color:#1a1a1a;left:99.60px;">RSI(14,14,14)</div>
<div class="t" style="top:328.04px;font-size:12px;line-height:14px;color:#4a94ee;left:178.20px;">RSI1:39.18</div>
<div class="t" style="top:328.04px;font-size:12px;line-height:14px;color:#5dbf8c;left:246.00px;">RSI2:39.18</div>
<div class="t" style="top:328.04px;font-size:12px;line-height:14px;color:#4fb0e6;left:314.10px;">RSI3:39.18</div>
<div class="t" style="top:434.04px;font-size:12px;line-height:14px;color:#1a1a1a;left:99.60px;letter-spacing:.12px;">MACD(26,12,9)</div>
<div class="t" style="top:434.04px;font-size:12px;line-height:14px;color:#4a94ee;left:189.00px;letter-spacing:-.1px;">DIFF:-1.15</div>
<div class="t" style="top:434.04px;font-size:12px;line-height:14px;color:#5dbf8c;left:254.20px;">DEA:-0.86</div>
<div class="t" style="top:434.04px;font-size:12px;line-height:14px;color:#4fb0e6;left:318.00px;letter-spacing:.25px;">MACD:-0.58</div>
<div class="t" style="top:45.04px;font-size:12px;line-height:14px;color:#e8485c;font-weight:bold;left:400.30px;">78.40</div>
<div class="t" style="top:128.84px;font-size:12px;line-height:14px;color:#e8485c;font-weight:bold;left:562.30px;">70.51</div>
<div class="t" style="top:239.64px;font-size:12px;line-height:14px;color:#55b88a;font-weight:bold;left:640.60px;">61.45</div>
<div class="t" style="top:518.72px;font-size:12.5px;line-height:14.5px;color:#222;font-weight:bold;left:175.40px;">2025/05</div>
<div class="t" style="top:518.72px;font-size:12.5px;line-height:14.5px;color:#222;font-weight:bold;left:307.70px;">2025/06</div>
<div class="t" style="top:518.72px;font-size:12.5px;line-height:14.5px;color:#222;font-weight:bold;left:432.90px;">2025/07</div>
<div class="t" style="top:518.72px;font-size:12.5px;line-height:14.5px;color:#222;font-weight:bold;left:571.70px;">2025/08</div>
<div class="t c" style="left:10.0px;top:13.4px;width:13px;height:42.0px;font-size:13px;line-height:14px;white-space:normal;word-break:break-all;color:#1c2438;">分时图</div>
<div class="t" style="top:63.69px;font-size:11px;line-height:13px;color:#fff;font-family:'Liberation Serif',serif;left:13.70px;transform:scaleX(.84);transform-origin:0 0;">K</div>
<div class="t c" style="left:10.0px;top:77.4px;width:13px;height:28.0px;font-size:13px;line-height:14px;white-space:normal;word-break:break-all;color:#fff;">线图</div>
<div class="t c" style="left:10.0px;top:111.2px;width:13px;height:42.9px;font-size:13px;line-height:14.3px;white-space:normal;word-break:break-all;color:#1c2438;">闪电图</div>
<div class="t c" style="left:10.0px;top:164.3px;width:13px;height:56.0px;font-size:13px;line-height:14px;white-space:normal;word-break:break-all;color:#1c2438;">合约资料</div>
<div class="t c" style="left:41.2px;top:520.9px;width:26.0px;height:15px;font-size:13px;line-height:15px;color:#ff7a00;font-weight:bold;">日线</div>
<div class="t c" style="left:34.5px;top:537.6px;width:26.0px;height:15px;font-size:13px;line-height:15px;color:#fff;">指标</div>
<div class="t c" style="left:74.5px;top:537.6px;width:26.0px;height:15px;font-size:13px;line-height:15px;color:#1c2438;">模板</div>
<div class="t" style="top:539.30px;font-size:12px;line-height:14px;color:#f97d08;font-family:'Liberation Mono',monospace;left:115.00px;transform:scaleX(.8333);transform-origin:0 0;">VIP</div>
<div class="t c" style="left:132.5px;top:537.6px;width:26.0px;height:15px;font-size:13px;line-height:15px;color:#f97d08;">指标</div>
<div class="t" style="top:539.30px;font-size:12px;line-height:14px;color:#1c2438;font-family:'Liberation Mono',monospace;left:173.20px;transform:scaleX(.8333);transform-origin:0 0;">MACD</div>
<div class="t" style="top:539.30px;font-size:12px;line-height:14px;color:#1c2438;font-family:'Liberation Mono',monospace;left:212.60px;transform:scaleX(.8333);transform-origin:0 0;">PP</div>
<div class="t" style="top:539.30px;font-size:12px;line-height:14px;color:#1c2438;font-family:'Liberation Mono',monospace;left:240.60px;transform:scaleX(.8333);transform-origin:0 0;">PPS</div>
<div class="t" style="top:539.30px;font-size:12px;line-height:14px;color:#1c2438;font-family:'Liberation Mono',monospace;left:274.40px;transform:scaleX(.8333);transform-origin:0 0;">CCI</div>
<div class="t" style="top:539.30px;font-size:12px;line-height:14px;color:#1c2438;font-family:'Liberation Mono',monospace;left:308.50px;transform:scaleX(.8333);transform-origin:0 0;">KDJ</div>
<div class="t" style="top:539.30px;font-size:12px;line-height:14px;color:#1c2438;font-family:'Liberation Mono',monospace;left:342.50px;transform:scaleX(.8333);transform-origin:0 0;">RSI</div>
<div class="t" style="top:539.30px;font-size:12px;line-height:14px;color:#1c2438;font-family:'Liberation Mono',monospace;left:377.00px;transform:scaleX(.8333);transform-origin:0 0;">CR</div>
<div class="t" style="top:539.30px;font-size:12px;line-height:14px;color:#1c2438;font-family:'Liberation Mono',monospace;left:405.00px;transform:scaleX(.8333);transform-origin:0 0;">PSY</div>
<div class="t" style="top:539.30px;font-size:12px;line-height:14px;color:#1c2438;font-family:'Liberation Mono',monospace;left:439.00px;transform:scaleX(.8333);transform-origin:0 0;">BOLL</div>
<div class="t" style="top:539.30px;font-size:12px;line-height:14px;color:#1c2438;font-family:'Liberation Mono',monospace;left:478.20px;transform:scaleX(.8333);transform-origin:0 0;">VOL</div>
<div class="t" style="top:539.30px;font-size:12px;line-height:14px;color:#1c2438;font-family:'Liberation Mono',monospace;left:513.00px;transform:scaleX(.8333);transform-origin:0 0;">ICHIMOKU CLOUD</div>
<div class="t" style="top:539.30px;font-size:12px;line-height:14px;color:#1c2438;font-family:'Liberation Mono',monospace;left:613.50px;transform:scaleX(.8333);transform-origin:0 0;">&gt;&gt;</div>
<div class="t c" style="left:640.5px;top:537.6px;width:26.0px;height:15px;font-size:13px;line-height:15px;color:#1c2438;">设置</div>
<div class="t wm" style="left:669.2px;top:503.75px;">FX678</div>
</body></html>
